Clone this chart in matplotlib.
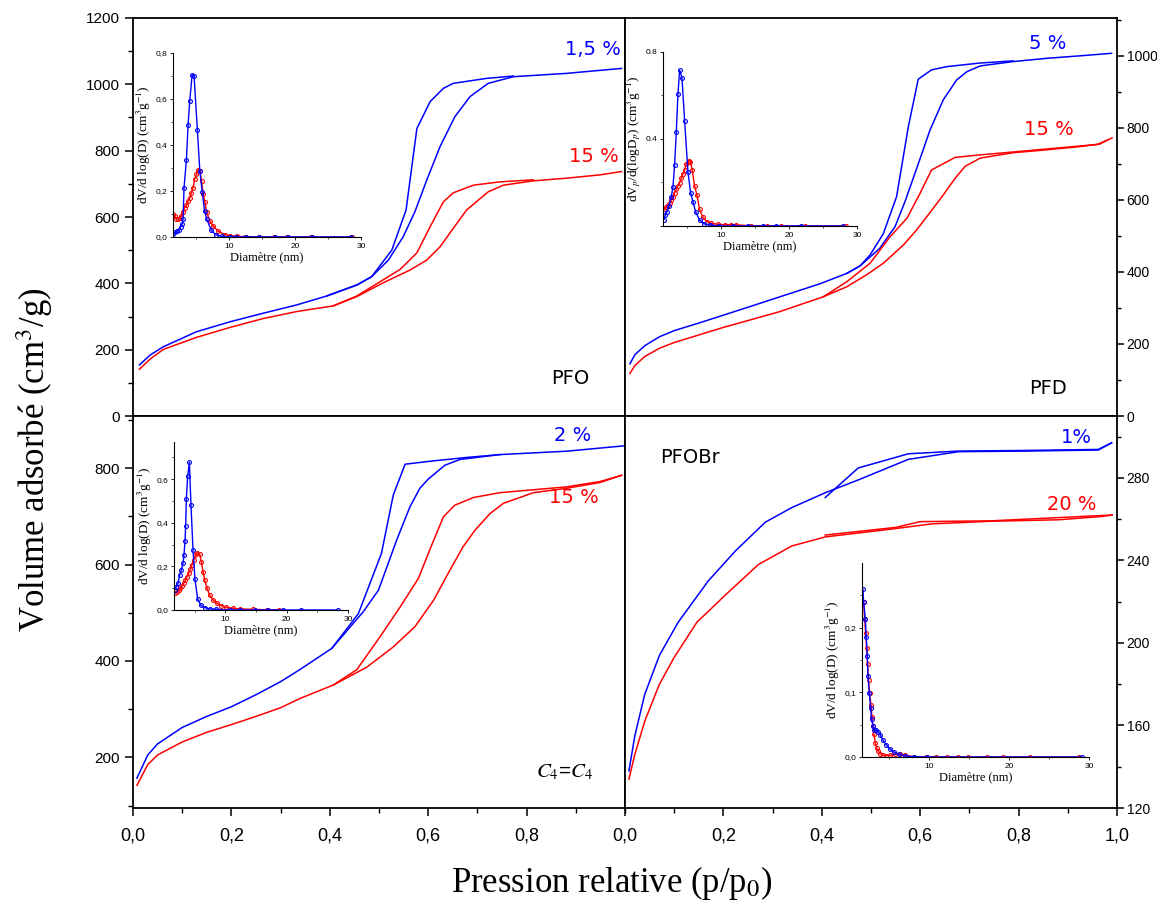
import matplotlib
matplotlib.use("Agg")
import matplotlib.pyplot as plt
from matplotlib.ticker import MultipleLocator, FixedLocator

plt.rcParams['font.family'] = ['Liberation Sans', 'DejaVu Sans']
plt.rcParams['mathtext.fontset'] = 'stix'

BLUE = '#0000ff'
RED = '#ff0000'

# ---------------- isotherms (p/p0, V cm3/g) ----------------
# PFO
pfo_blue_ads_p = [0.013, 0.035, 0.062, 0.129, 0.197, 0.265, 0.333, 0.394, 0.455, 0.485, 0.519, 0.549, 0.573,
                  0.597, 0.624, 0.654, 0.685, 0.722, 0.773, 0.881, 0.993]
pfo_blue_ads_v = [154, 184, 209, 254, 284, 310, 335, 362, 395, 420, 470, 540, 616, 711, 812, 902, 963, 1003,
                  1023, 1033, 1048]
pfo_blue_des_p = [0.394, 0.455, 0.485, 0.526, 0.555, 0.577, 0.604, 0.631, 0.651, 0.719, 0.773]
pfo_blue_des_v = [362, 395, 420, 500, 621, 867, 948, 988, 1003, 1018, 1025]
pfo_red_ads_p = [0.013, 0.035, 0.062, 0.129, 0.197, 0.265, 0.333, 0.407, 0.455, 0.509, 0.563, 0.597, 0.624,
                 0.651, 0.678, 0.722, 0.753, 0.814, 0.881, 0.949, 0.993]
pfo_red_ads_v = [141, 172, 201, 237, 267, 294, 315, 332, 360, 402, 440, 470, 510, 566, 621, 676, 696, 709,
                 717, 727, 737]
pfo_red_des_p = [0.407, 0.455, 0.543, 0.577, 0.604, 0.631, 0.651, 0.692, 0.746, 0.814]
pfo_red_des_v = [332, 362, 442, 492, 571, 646, 673, 696, 706, 712]

# PFD
pfd_blue_ads_p = [0.01, 0.02, 0.04, 0.07, 0.1, 0.15, 0.2, 0.25, 0.315, 0.396, 0.451, 0.478, 0.518, 0.549,
                  0.569, 0.593, 0.620, 0.647, 0.674, 0.695, 0.722, 0.789, 0.857, 0.925, 0.989]
pfd_blue_ads_v = [145, 170, 195, 220, 237, 258, 280, 302, 331, 367, 396, 417, 466, 526, 595, 688, 794, 878,
                  933, 956, 972, 984, 993, 1000, 1007]
pfd_blue_des_p = [0.451, 0.478, 0.498, 0.525, 0.552, 0.576, 0.596, 0.623, 0.654, 0.722, 0.789]
pfd_blue_des_v = [396, 417, 447, 506, 609, 804, 935, 961, 970, 980, 986]
pfd_red_ads_p = [0.01, 0.02, 0.04, 0.07, 0.1, 0.15, 0.2, 0.25, 0.315, 0.403, 0.451, 0.491, 0.525, 0.566,
                 0.593, 0.620, 0.647, 0.671, 0.691, 0.722, 0.789, 0.857, 0.925, 0.965, 0.982]
pfd_red_ads_v = [118, 140, 165, 188, 204, 225, 246, 265, 290, 331, 359, 392, 424, 475, 517, 565, 614, 660,
                 693, 716, 731, 739, 748, 755, 767]
pfd_red_des_p = [0.403, 0.451, 0.498, 0.539, 0.573, 0.600, 0.623, 0.671, 0.722, 0.789, 0.96, 0.99]
pfd_red_des_v = [331, 373, 424, 498, 549, 619, 683, 718, 725, 733, 754, 772]

# C4=C4
c4_blue_ads_p = [0.008, 0.03, 0.05, 0.1, 0.15, 0.2, 0.25, 0.3, 0.339, 0.404, 0.468, 0.499, 0.536, 0.563,
                 0.583, 0.600, 0.634, 0.665, 0.746, 0.881, 0.997]
c4_blue_ads_v = [157, 205, 228, 262, 285, 305, 330, 357, 382, 426, 502, 547, 651, 720, 758, 777, 806, 818,
                 828, 835, 846]
c4_blue_des_p = [0.404, 0.458, 0.505, 0.529, 0.553, 0.611, 0.678, 0.746]
c4_blue_des_v = [426, 498, 623, 744, 808, 815, 822, 828]
c4_red_ads_p = [0.008, 0.03, 0.05, 0.1, 0.15, 0.2, 0.25, 0.3, 0.339, 0.407, 0.475, 0.529, 0.573, 0.611,
                0.644, 0.671, 0.695, 0.726, 0.753, 0.814, 0.881, 0.949, 0.993]
c4_red_ads_v = [142, 185, 205, 232, 252, 268, 285, 303, 322, 350, 387, 429, 471, 526, 588, 637, 671, 706,
                727, 749, 758, 770, 785]
c4_red_des_p = [0.407, 0.455, 0.502, 0.543, 0.580, 0.607, 0.631, 0.654, 0.692, 0.746, 0.881, 0.949, 0.993]
c4_red_des_v = [350, 382, 450, 512, 571, 640, 699, 723, 739, 749, 761, 772, 785]

# PFOBr
br_blue_ads_p = [0.008, 0.02, 0.04, 0.07, 0.108, 0.169, 0.224, 0.285, 0.339, 0.407, 0.474, 0.576, 0.678,
                 0.813, 0.962, 0.989]
br_blue_ads_v = [138, 155, 175, 194, 210, 230, 244.5, 258.5, 265.6, 272.8, 279, 289, 292.7, 293, 293.5, 297]
br_blue_des_p = [0.407, 0.474, 0.576, 0.678, 0.813, 0.962, 0.989]
br_blue_des_v = [270.5, 284.8, 291.7, 293, 293.3, 293.8, 297]
br_red_ads_p = [0.008, 0.02, 0.04, 0.07, 0.1, 0.146, 0.203, 0.271, 0.339, 0.407, 0.542, 0.623, 0.745,
                0.881, 0.969, 0.99]
br_red_ads_v = [134, 146, 162, 180, 193, 210, 223, 238, 247, 251.4, 255.2, 257.7, 259, 259.7, 261.3, 262]
br_red_des_p = [0.407, 0.55, 0.6, 0.745, 0.99]
br_red_des_v = [252.3, 256, 258.8, 259.2, 262]

# ---------------- pore size distributions (D nm, dV/dlogD) ----------------
psd_a_blue_d = [1.5, 1.86, 2.16, 2.42, 2.67, 2.92, 3.03, 3.18, 3.54, 3.79, 4.04, 4.4, 4.7, 5.2, 5.57, 5.93,
                6.28, 6.64, 7.3, 8.0, 8.9, 10.2, 11.0, 12.5, 14.5, 17.0, 19.0, 22.5, 28.5]
psd_a_blue_v = [0.015, 0.02, 0.025, 0.032, 0.044, 0.058, 0.079, 0.215, 0.336, 0.488, 0.59, 0.705, 0.70,
                0.464, 0.288, 0.197, 0.115, 0.076, 0.029, 0.01, 0.003, 0.0, 0.0, 0.0, 0.0, 0.0, 0.0, 0.0, 0.0]
psd_a_red_d = [1.5, 1.75, 2.0, 2.26, 2.5, 2.77, 3.03, 3.28, 3.54, 3.79, 4.04, 4.3, 4.55, 4.8, 5.06, 5.32,
               5.57, 5.83, 6.08, 6.34, 6.6, 7.1, 7.6, 8.37, 9.39, 10.15, 11.2, 12.4, 14.5, 16.8, 18.8, 22.4, 28.7]
psd_a_red_v = [0.098, 0.091, 0.08, 0.079, 0.083, 0.091, 0.108, 0.127, 0.137, 0.156, 0.171, 0.193, 0.215,
               0.252, 0.273, 0.292, 0.288, 0.244, 0.186, 0.152, 0.108, 0.069, 0.047, 0.025, 0.01, 0.006,
               0.003, 0.001, 0.0, 0.0, 0.0, 0.0, 0.0]

psd_b_blue_d = [1.6, 1.84, 2.09, 2.38, 2.72, 2.97, 3.21, 3.46, 3.7, 3.95, 4.29, 4.68, 5.17, 5.56, 5.9, 6.29,
                6.88, 7.6, 8.35, 9.8, 11.8, 14.0, 16.2, 18.1, 21.8, 27.9]
psd_b_blue_v = [0.028, 0.05, 0.066, 0.092, 0.135, 0.18, 0.28, 0.433, 0.606, 0.716, 0.682, 0.483, 0.249,
                0.153, 0.112, 0.066, 0.028, 0.009, 0.005, 0.0, 0.0, 0.0, 0.0, 0.0, 0.0, 0.0]
psd_b_red_d = [1.74, 1.99, 2.23, 2.48, 2.72, 2.97, 3.21, 3.46, 3.7, 3.95, 4.19, 4.43, 4.68, 4.92, 5.27, 5.5,
               5.8, 6.15, 6.49, 6.88, 7.37, 7.95, 8.6, 9.57, 10.55, 11.5, 12.3, 14.5, 16.8, 18.8, 22.3, 28.4]
psd_b_red_v = [0.078, 0.089, 0.096, 0.107, 0.119, 0.135, 0.153, 0.168, 0.185, 0.199, 0.219, 0.239, 0.257,
               0.285, 0.30, 0.295, 0.257, 0.184, 0.142, 0.076, 0.04, 0.02, 0.012, 0.008, 0.006, 0.006,
               0.005, 0.001, 0.0, 0.0, 0.0, 0.0]

psd_c_blue_d = [1.7, 1.98, 2.25, 2.52, 2.8, 3.07, 3.23, 3.39, 3.5, 3.61, 3.83, 4.1, 4.37, 4.7, 5.02, 5.46,
                5.95, 6.6, 7.4, 8.5, 10.7, 12.3, 14.75, 17.0, 19.4, 22.4, 28.3]
psd_c_blue_v = [0.092, 0.107, 0.122, 0.161, 0.184, 0.214, 0.253, 0.314, 0.383, 0.508, 0.612, 0.677, 0.482,
                0.275, 0.141, 0.05, 0.023, 0.011, 0.005, 0.003, 0.0, 0.0, 0.0, 0.0, 0.0, 0.0, 0.0]
psd_c_red_d = [1.82, 2.09, 2.36, 2.63, 2.9, 3.18, 3.45, 3.72, 4.0, 4.26, 4.53, 4.8, 5.08, 5.4, 5.78, 6.06,
               6.33, 6.6, 6.98, 7.4, 7.96, 8.6, 9.32, 10.13, 11.2, 12.3, 14.5, 16.7, 18.8]
psd_c_red_v = [0.08, 0.084, 0.092, 0.1, 0.11, 0.122, 0.138, 0.153, 0.168, 0.187, 0.207, 0.23, 0.25, 0.263,
               0.257, 0.222, 0.176, 0.138, 0.1, 0.069, 0.046, 0.031, 0.02, 0.012, 0.008, 0.005, 0.003,
               0.001, 0.001]

psd_d_blue_d = [1.72, 1.81, 2.02, 2.14, 2.27, 2.35, 2.52, 2.68, 2.81, 2.98, 3.14, 3.39, 3.64, 3.9, 4.22,
                4.64, 5.06, 5.56, 6.2, 7.0, 8.06, 9.7, 29.1]
psd_d_blue_v = [0.259, 0.24, 0.213, 0.185, 0.156, 0.125, 0.099, 0.075, 0.058, 0.048, 0.041, 0.042, 0.039,
                0.034, 0.026, 0.019, 0.013, 0.008, 0.004, 0.0015, 0.0005, 0.0, 0.0]
psd_d_red_d = [1.81, 1.93, 2.06, 2.18, 2.3, 2.43, 2.56, 2.73, 2.85, 2.98, 3.1, 3.27, 3.43, 3.64, 3.9, 4.22,
               4.64, 5.14, 5.77, 6.4, 7.0, 8.06, 9.64, 10.8, 12.2, 13.6, 14.9, 17.2, 19.2, 22.6, 28.8]
psd_d_red_v = [0.24, 0.214, 0.191, 0.168, 0.144, 0.119, 0.099, 0.08, 0.062, 0.048, 0.035, 0.022, 0.014,
               0.009, 0.005, 0.003, 0.002, 0.0026, 0.004, 0.005, 0.0026, 0.0005, 0.0, 0.0, 0.0, 0.0, 0.0,
               0.0, 0.0, 0.0, 0.0]

x_major = [0.0, 0.2, 0.4, 0.6, 0.8, 1.0]
x_labels = ['0,0', '0,2', '0,4', '0,6', '0,8', '1,0']

fig = plt.figure(figsize=(11.57, 9.16), dpi=100)

W = 0.42524
ax_a = fig.add_axes([0.11495, 0.54585, W, 0.43450])
ax_b = fig.add_axes([0.54019, 0.54585, W, 0.43450])
ax_c = fig.add_axes([0.11495, 0.11790, W, 0.42795])
ax_d = fig.add_axes([0.54019, 0.11790, W, 0.42795])

NARROW = ['Liberation Sans Narrow', 'Liberation Sans', 'DejaVu Sans']


def main_panel(ax, series, ylim, ymaj, ymin, side, bottom, nx):
    for p, v, c in series:
        ax.plot(p, v, color=c, lw=1.1)
    ax.set_xlim(0, 1)
    ax.set_ylim(*ylim)
    for s in ax.spines.values():
        s.set_linewidth(1.3)
    ax.yaxis.set_major_locator(MultipleLocator(ymaj))
    ax.yaxis.set_minor_locator(MultipleLocator(ymin))
    if side == 'right':
        ax.yaxis.tick_right()
        ax.tick_params(axis='y', which='major', length=5, width=1.1, labelsize=10, pad=2)
        ax.tick_params(axis='y', which='minor', length=3, width=1.0)
    else:
        ax.tick_params(axis='y', which='major', length=6, width=1.1, labelsize=11)
        ax.tick_params(axis='y', which='minor', length=3.5, width=1.0)
    if bottom:
        ax.xaxis.set_major_locator(FixedLocator(x_major[:nx]))
        ax.set_xticklabels(x_labels[:nx])
        ax.xaxis.set_minor_locator(MultipleLocator(0.1))
        ax.tick_params(axis='x', which='major', length=6, width=1.1, labelsize=13, pad=8)
        ax.tick_params(axis='x', which='minor', length=3.5, width=1.0)
        for lab in ax.get_xticklabels():
            lab.set_family(NARROW)
    else:
        ax.tick_params(axis='x', which='both', bottom=False, labelbottom=False)


main_panel(ax_a, [(pfo_blue_ads_p, pfo_blue_ads_v, BLUE), (pfo_blue_des_p, pfo_blue_des_v, BLUE),
                  (pfo_red_ads_p, pfo_red_ads_v, RED), (pfo_red_des_p, pfo_red_des_v, RED)],
           (0, 1200), 200, 100, 'left', False, 5)
main_panel(ax_b, [(pfd_blue_ads_p, pfd_blue_ads_v, BLUE), (pfd_blue_des_p, pfd_blue_des_v, BLUE),
                  (pfd_red_ads_p, pfd_red_ads_v, RED), (pfd_red_des_p, pfd_red_des_v, RED)],
           (0, 1105), 200, 100, 'right', False, 6)
main_panel(ax_c, [(c4_blue_ads_p, c4_blue_ads_v, BLUE), (c4_blue_des_p, c4_blue_des_v, BLUE),
                  (c4_red_ads_p, c4_red_ads_v, RED), (c4_red_des_p, c4_red_des_v, RED)],
           (95, 908), 200, 100, 'left', True, 5)
main_panel(ax_d, [(br_blue_ads_p, br_blue_ads_v, BLUE), (br_blue_des_p, br_blue_des_v, BLUE),
                  (br_red_ads_p, br_red_ads_v, RED), (br_red_des_p, br_red_des_v, RED)],
           (120, 310), 40, 20, 'right', True, 6)
ax_a.set_yticks([0, 200, 400, 600, 800, 1000, 1200])
ax_c.set_yticks([200, 400, 600, 800])
ax_b.set_yticks([0, 200, 400, 600, 800, 1000])
ax_d.set_yticks([120, 160, 200, 240, 280])

# panel annotations
LAB = dict(fontsize=14, ha='center', va='center', family=['DejaVu Sans'])
ax_a.text(0.935, 0.92, '1,5 %', color=BLUE, transform=ax_a.transAxes, **LAB)
ax_a.text(0.937, 0.651, '15 %', color=RED, transform=ax_a.transAxes, **LAB)
ax_a.text(0.888, 0.095, 'PFO', color='black', transform=ax_a.transAxes, **LAB)
ax_b.text(0.86, 0.937, '5 %', color=BLUE, transform=ax_b.transAxes, **LAB)
ax_b.text(0.862, 0.719, '15 %', color=RED, transform=ax_b.transAxes, **LAB)
ax_b.text(0.86, 0.07, 'PFD', color='black', transform=ax_b.transAxes, **LAB)
ax_c.text(0.894, 0.949, '2 %', color=BLUE, transform=ax_c.transAxes, **LAB)
ax_c.text(0.896, 0.793, '15 %', color=RED, transform=ax_c.transAxes, **LAB)
ax_c.text(0.878, 0.092, r'$C_4$=$C_4$', color='black', transform=ax_c.transAxes, fontsize=15,
          ha='center', va='center')
ax_d.text(0.132, 0.893, 'PFOBr', color='black', transform=ax_d.transAxes, **LAB)
ax_d.text(0.917, 0.944, '1%', color=BLUE, transform=ax_d.transAxes, **LAB)
ax_d.text(0.909, 0.773, '20 %', color=RED, transform=ax_d.transAxes, **LAB)


# ---------------- insets ----------------
def inset(rect, blue, red, xlim, ylim, yticks, ylabels, yminor, ylab):
    ax = fig.add_axes(rect)
    ax.patch.set_alpha(0)
    ax.plot(red[0], red[1], color=RED, lw=1.0, marker='o', ms=2.8, mfc='none', mew=0.8)
    ax.plot(blue[0], blue[1], color=BLUE, lw=1.0, marker='o', ms=2.8, mfc='none', mew=0.8)
    ax.set_xlim(*xlim)
    ax.set_ylim(*ylim)
    ax.spines['top'].set_visible(False)
    ax.spines['right'].set_visible(False)
    for s in ('left', 'bottom'):
        ax.spines[s].set_linewidth(0.8)
    ax.set_xticks([10, 20, 30])
    ax.set_xticklabels(['10', '20', '30'])
    ax.xaxis.set_minor_locator(FixedLocator([5, 15, 25]))
    ax.set_yticks(yticks)
    ax.set_yticklabels(ylabels)
    ax.yaxis.set_minor_locator(FixedLocator(yminor))
    ax.tick_params(which='major', length=2.5, width=0.6, labelsize=6, pad=1.5)
    ax.tick_params(which='minor', length=1.5, width=0.5)
    ax.set_xlabel('Diamètre (nm)', fontsize=9, family=['Liberation Serif'], labelpad=1)
    ax.set_ylabel(ylab, fontsize=9.5, family=['Liberation Serif'], labelpad=2)
    return ax


lab_d = r'dV/d log(D) (cm$^3$g$^{-1}$)'
inset([0.1495, 0.7413, 0.1625, 0.2009], (psd_a_blue_d, psd_a_blue_v), (psd_a_red_d, psd_a_red_v),
      (1.5, 30), (0, 0.8), [0, 0.2, 0.4, 0.6, 0.8], ['0,0', '0,2', '0,4', '0,6', '0,8'],
      [0.1, 0.3, 0.5, 0.7], lab_d)
inset([0.5730, 0.7533, 0.1677, 0.1900], (psd_b_blue_d, psd_b_blue_v), (psd_b_red_d, psd_b_red_v),
      (1.5, 30), (0, 0.8), [0, 0.4, 0.8], ['', '0.4', '0.8'], [0.2, 0.6],
      r'dV$_p$/d(logD$_p$) (cm$^3$g$^{-1}$)')
inset([0.1504, 0.3341, 0.1504, 0.1834], (psd_c_blue_d, psd_c_blue_v), (psd_c_red_d, psd_c_red_v),
      (1.6, 30), (0, 0.77), [0, 0.2, 0.4, 0.6], ['0,0', '0,2', '0,4', '0,6'],
      [0.1, 0.3, 0.5, 0.7], lab_d)
inset([0.7450, 0.1736, 0.1962, 0.2118], (psd_d_blue_d, psd_d_blue_v), (psd_d_red_d, psd_d_red_v),
      (1.6, 30), (0, 0.3), [0, 0.1, 0.2], ['0,0', '0,1', '0,2'], [0.05, 0.15, 0.25], lab_d)

# global axis titles
fig.text(0.030, 0.498, 'Volume adsorbé (cm$^3$/g)', rotation=90, ha='center', va='center',
         fontsize=25, family=['Liberation Serif'])
fig.text(0.529, 0.036, 'Pression relative (p/p$_0$)', ha='center', va='center',
         fontsize=25, family=['Liberation Serif'])

fig.savefig('out.png', dpi=100)
